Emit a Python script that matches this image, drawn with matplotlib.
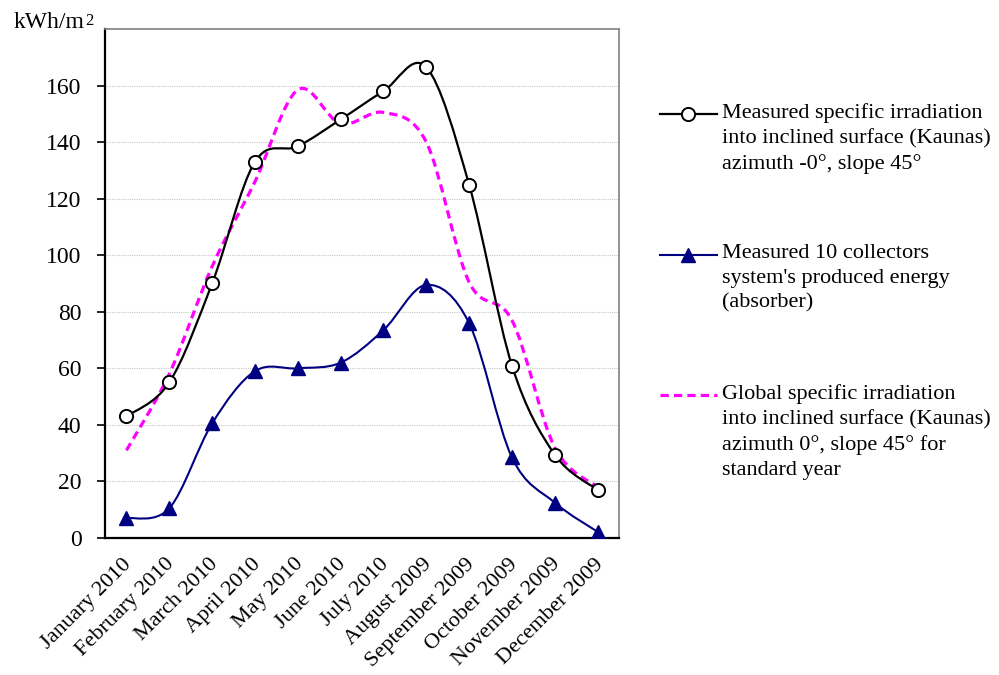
import matplotlib
matplotlib.use("Agg")
import matplotlib.pyplot as plt
import matplotlib.transforms as mtransforms
import numpy as np
from matplotlib.path import Path
from matplotlib.patches import PathPatch
from matplotlib.lines import Line2D

plt.rcParams['font.family'] = ['Liberation Serif', 'DejaVu Serif']

months = ["January 2010", "February 2010", "March 2010", "April 2010", "May 2010",
          "June 2010", "July 2010", "August 2009", "September 2009", "October 2009",
          "November 2009", "December 2009"]
measured = [43, 55, 90, 133, 138.5, 148, 158, 166.5, 125, 61, 29.5, 17]
absorber = [7, 10.5, 40.5, 59, 60, 62, 73.5, 89.5, 76, 28.5, 12.5, 2.2]
global_std = [31, 58, 96, 126, 158.5, 146.5, 150.5, 140, 90.5, 77, 32, 18]

lab_measured = "Measured specific irradiation\ninto inclined surface (Kaunas)\nazimuth -0°, slope 45°"
lab_absorber = "Measured 10 collectors\nsystem's produced energy\n(absorber)"
lab_global = "Global specific irradiation\ninto inclined surface (Kaunas)\nazimuth 0°, slope 45° for\nstandard year"

W, H = 999, 675


def smooth_path(x, y):
    # excel-like smoothed line: bezier segments through every point
    pts = np.column_stack([x, y]).astype(float)
    n = len(pts)
    verts = [pts[0]]
    codes = [Path.MOVETO]
    for i in range(n - 1):
        p0 = pts[max(i - 1, 0)]
        p1 = pts[i]
        p2 = pts[i + 1]
        p3 = pts[min(i + 2, n - 1)]
        verts += [p1 + (p2 - p0) / 6, p2 - (p3 - p1) / 6, p2]
        codes += [Path.CURVE4] * 3
    return Path(verts, codes)


fig = plt.figure(figsize=(W / 100, H / 100), dpi=100)
ax = fig.add_axes([105 / W, 1 - 538 / H, 514 / W, 509 / H])
x = np.arange(len(months))

st_measured = dict(color='black', lw=1.6, marker='o', ms=9.5, mfc='white', mec='black', mew=1.4)
st_absorber = dict(color='#000080', lw=1.5, marker='^', ms=9.5, mfc='#000080', mec='#000080')
st_global = dict(color='#ff00ff', lw=2.3, linestyle=(0, (2.6, 1.6)))

ax.add_patch(PathPatch(smooth_path(x, global_std), facecolor='none', edgecolor=st_global['color'],
                       lw=st_global['lw'], linestyle=st_global['linestyle'], zorder=3))
ax.add_patch(PathPatch(smooth_path(x, measured), facecolor='none', edgecolor='black',
                       lw=1.6, zorder=4))
ax.add_patch(PathPatch(smooth_path(x, absorber), facecolor='none', edgecolor='#000080',
                       lw=1.5, zorder=4))
ax.plot(x, measured, ls='none', marker='o', ms=9.5, mfc='white', mec='black', mew=1.4, zorder=5)
ax.plot(x, absorber, ls='none', marker='^', ms=9.5, mfc='#000080', mec='#000080', zorder=5)

ax.set_xlim(-0.5, len(months) - 0.5)
ax.set_ylim(0, 180)
ax.set_yticks(np.arange(0, 161, 20))
ax.set_xticks(x)
ax.set_xticklabels(months, rotation=45, ha='right', rotation_mode='anchor', fontsize=16)
ax.tick_params(axis='x', length=0, pad=12)
ax.tick_params(axis='y', labelsize=17, length=6, width=1.2, pad=11, direction='out')
shift = mtransforms.ScaledTranslation(-4 / 100, 0, fig.dpi_scale_trans)
for lbl in ax.get_xticklabels():
    lbl.set_transform(lbl.get_transform() + shift)
ax.yaxis.grid(True, color='#c8c8c8', linestyle=(0, (1, 1)), lw=0.8)
ax.set_axisbelow(True)
for s in ['left', 'bottom']:
    ax.spines[s].set_color('black')
    ax.spines[s].set_linewidth(1.6)
for s in ['top', 'right']:
    ax.spines[s].set_color('#808080')
    ax.spines[s].set_linewidth(1.2)

# unit label with a raised "2"
unit = fig.text(14 / W, 1 - 28 / H, "kWh/m", fontsize=17, va='baseline', ha='left')
ax.annotate("2", xy=(1.0, 1.0), xycoords=unit, xytext=(0.5, -0.5), textcoords='offset points',
            fontsize=12, ha='left', va='top', annotation_clip=False)

# legend drawn by hand so the key lines sit on the first text line
entries = [(lab_measured, st_measured, 114), (lab_absorber, st_absorber, 255), (lab_global, st_global, 395)]
for label, st, ypx in entries:
    yf = 1 - ypx / H
    line_st = {k: v for k, v in st.items() if k not in ('marker', 'ms', 'mfc', 'mec', 'mew')}
    fig.add_artist(Line2D([660 / W, 717 / W], [yf, yf], transform=fig.transFigure, **line_st))
    if 'marker' in st:
        fig.add_artist(Line2D([688 / W], [yf], transform=fig.transFigure, ls='none',
                              marker=st['marker'], ms=st['ms'], mfc=st['mfc'], mec=st['mec'],
                              mew=st.get('mew', 1.0)))
    fig.text(722 / W, 1 - (ypx - 11) / H, label, fontsize=16, va='top', ha='left', linespacing=1.4)

fig.savefig("out.png", dpi=100)
